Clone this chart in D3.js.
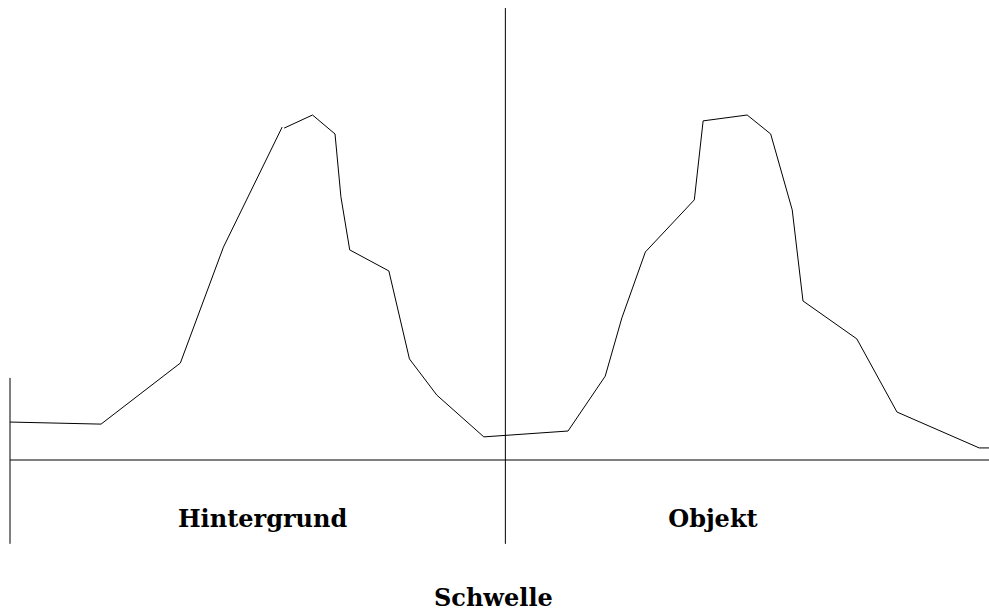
<!DOCTYPE html>
<html>
<head>
<meta charset="utf-8">
<script src="https://cdn.jsdelivr.net/npm/d3@7"></script>
<style>
  body { margin: 0; background: #fff; overflow: hidden; }
  svg { display: block; }
  .label { font-family: "DejaVu Serif", serif; font-weight: bold; font-size: 24px; fill: #000; }
</style>
</head>
<body>
<svg id="chart"></svg>
<script>
// Grey level (0-100) and frequency (0-100) of the histogram curve.
// A null entry marks the small break near the first peak.
const greyLevels = [0, 9.3, 17.4, 21.8, 27.8, null, 28.0, 30.9, 33.2, 33.8, 34.7, 38.7, 40.8, 43.6, 48.4,
  57.0, 60.8, 62.5, 64.9, 69.9, 70.8, 75.3, 77.7, 79.9, 81.0, 86.5, 90.6, 99.0, 100];
const frequencies = [11.0, 10.4, 28.1, 61.7, 96.5, null, 96.2, 100, 94.5, 76.3, 60.9, 54.8, 29.3, 18.8, 6.7,
  8.4, 24.3, 41.2, 60.3, 75.4, 98.3, 100, 94.5, 72.5, 46.1, 35.1, 13.9, 3.5, 3.5];

const threshold = 50.6;
const regionLabels = ["Hintergrund", "Objekt"];
const regionCentres = [25.8, 71.8];
const thresholdLabel = "Schwelle";

const config = {
  width: 989,
  height: 614,
  margin: { top: 115, right: 0, bottom: 154, left: 10 }
};

const innerWidth = config.width - config.margin.left - config.margin.right;
const innerHeight = config.height - config.margin.top - config.margin.bottom;

const svg = d3.select('#chart')
  .attr('width', config.width)
  .attr('height', config.height);

const xScale = d3.scaleLinear()
  .domain([0, 100])
  .range([config.margin.left, config.margin.left + innerWidth]);

const yScale = d3.scaleLinear()
  .domain([0, 100])
  .range([config.margin.top + innerHeight, config.margin.top]);

const data = greyLevels.map((g, i) => [g, frequencies[i]]);

// Horizontal base line
svg.append('line')
  .attr('x1', xScale(0)).attr('x2', xScale(100))
  .attr('y1', yScale(0)).attr('y2', yScale(0))
  .attr('stroke', '#000');

// Short vertical line on the left
svg.append('line')
  .attr('x1', xScale(0)).attr('x2', xScale(0))
  .attr('y1', yScale(23.8)).attr('y2', yScale(-24.3))
  .attr('stroke', '#000');

// Threshold line
svg.append('line')
  .attr('x1', xScale(threshold)).attr('x2', xScale(threshold))
  .attr('y1', yScale(131)).attr('y2', yScale(-24.3))
  .attr('stroke', '#000');

const line = d3.line()
  .defined(d => d[0] !== null)
  .x(d => xScale(d[0]))
  .y(d => yScale(d[1]));

svg.append('path')
  .datum(data)
  .attr('d', line)
  .attr('fill', 'none')
  .attr('stroke', '#000')
  .attr('stroke-width', 1);

// Region labels under each half
svg.selectAll('.region')
  .data(regionLabels)
  .join('text')
  .attr('class', 'label region')
  .attr('x', (d, i) => xScale(regionCentres[i]))
  .attr('y', yScale(-19.5))
  .attr('text-anchor', 'middle')
  .text(d => d);

svg.append('text')
  .attr('class', 'label')
  .attr('x', xScale(threshold) - 12)
  .attr('y', yScale(-42.3))
  .attr('text-anchor', 'middle')
  .text(thresholdLabel);
</script>
</body>
</html>
